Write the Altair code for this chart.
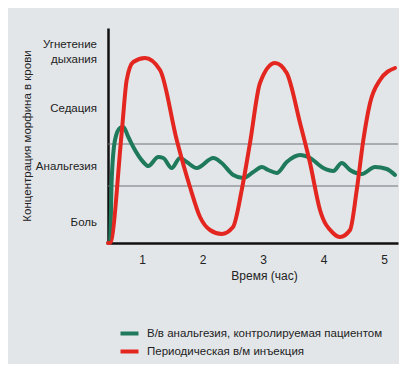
import altair as alt
import pandas as pd

# data (hours, relative concentration)
red_t = [0.44, 0.471, 0.664, 0.747, 0.856, 1.050, 1.298, 1.574, 1.793, 1.959, 2.124, 2.317, 2.504,
         2.648, 2.785, 2.950, 3.198, 3.392, 3.612, 3.777, 3.942, 4.157, 4.273, 4.438, 4.549,
         4.658, 4.769, 4.934, 5.182]
red_v = [0, 0, 110, 163, 181, 185, 173, 103, 56, 26, 13, 9, 16,
         53, 100, 160, 180, 170, 120, 80, 33, 10, 6, 13, 53,
         103, 140, 163, 175]

green_t = [0.44, 0.471, 0.499, 0.554, 0.636, 0.691, 0.774, 0.856, 1.021, 1.104, 1.269, 1.352, 1.491,
           1.628, 1.739, 1.904, 2.179, 2.317, 2.509, 2.674, 2.840, 2.979, 3.088, 3.226, 3.392,
           3.612, 3.777, 3.997, 4.162, 4.301, 4.438, 4.631, 4.851, 5.045, 5.182]
green_v = [0, 0, 63, 103, 115, 116, 106, 96, 81, 77, 86, 85, 75,
           85, 81, 75, 85, 80, 68, 65, 71, 76, 73, 70, 81,
           88, 85, 75, 72, 80, 73, 69, 76, 74, 68]

series_names = ["В/в анальгезия, контролируемая пациентом", "Периодическая в/м инъекция"]
series_colors = ["#1f7a5c", "#e3261f"]

y_levels = [20, 76, 134, 198]
y_labels = ["Боль", "Анальгезия", "Седация", "Угнетение\nдыхания"]
band_levels = [57, 99]
x_ticks = [1, 2, 3, 4, 5]

df = pd.concat([
    pd.DataFrame({"t": green_t, "v": green_v, "s": series_names[0], "o": 1}),
    pd.DataFrame({"t": red_t, "v": red_v, "s": series_names[1], "o": 0}),
])

xs = alt.Scale(domain=[0.438, 5.231], nice=False, zero=False)
ys = alt.Scale(domain=[0, 215], nice=False, zero=False)
FONT = "Liberation Sans"

bands = alt.Chart(pd.DataFrame({"v": band_levels})).mark_rule(
    color="#6f7378", strokeWidth=1
).encode(y=alt.Y("v:Q", scale=ys))

lines = alt.Chart(df).mark_line(
    strokeWidth=4, interpolate="monotone", strokeCap="round"
).encode(
    x=alt.X("t:Q", scale=xs,
            axis=alt.Axis(values=x_ticks, format="d", title="Время (час)",
                          domainColor="#111111", domainWidth=2.5, ticks=False,
                          labelFont=FONT, labelFontSize=12, labelColor="#222222",
                          labelPadding=11, titleFont=FONT, titleFontSize=12,
                          titleFontWeight="normal", titleColor="#222222",
                          titlePadding=5, titleX=156, grid=False)),
    y=alt.Y("v:Q", scale=ys,
            axis=alt.Axis(values=y_levels, labels=False, ticks=False,
                          domainColor="#111111", domainWidth=2.5,
                          title="Концентрация морфина в крови",
                          titleFont=FONT, titleFontSize=11.5, titleFontWeight="normal",
                          titleColor="#222222", titlePadding=76, grid=False)),
    color=alt.Color("s:N", scale=alt.Scale(domain=series_names, range=series_colors),
                    legend=alt.Legend(title=None, orient="none", legendX=12, legendY=296,
                                      symbolType="M-1.2,0L1.2,0", symbolStrokeWidth=4,
                                      symbolSize=225, labelFont=FONT, labelFontSize=11.5,
                                      labelColor="#222222", rowPadding=0, symbolOffset=0,
                                      labelOffset=8, labelLimit=400)),
    order="o:Q",
)

ylab = alt.Chart(pd.DataFrame({"v": y_levels, "lab": y_labels})).mark_text(
    align="right", baseline="middle", font=FONT, fontSize=11.5, color="#222222",
    lineBreak="\n", lineHeight=15
).encode(y=alt.Y("v:Q", scale=ys), x=alt.value(-11), text="lab:N")

chart = alt.layer(bands, lines, ylab).properties(
    width=290, height=215,
    padding={"left": 100, "top": 20, "right": 1, "bottom": 121},
    autosize=alt.AutoSizeParams(type="none"),
    background="#e3e6e9",
).configure_view(stroke=None)

chart.save("out.html", embed_options={"renderer": "svg", "actions": False})
